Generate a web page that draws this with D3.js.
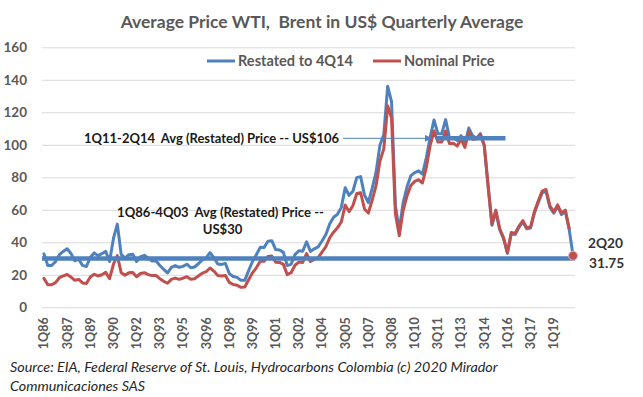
<!DOCTYPE html>
<html><head><meta charset="utf-8">
<script src="https://cdn.jsdelivr.net/npm/d3@7/dist/d3.min.js"></script>
<style>
body{margin:0;background:#fff}
svg{display:block}
text{font-family:Lato,"Open Sans",sans-serif;white-space:pre}
</style></head>
<body><svg id="chart" width="643" height="397"></svg>
<script>
const categories = [
"1Q86","2Q86","3Q86","4Q86","1Q87","2Q87","3Q87","4Q87","1Q88","2Q88","3Q88","4Q88",
"1Q89","2Q89","3Q89","4Q89","1Q90","2Q90","3Q90","4Q90","1Q91","2Q91","3Q91","4Q91",
"1Q92","2Q92","3Q92","4Q92","1Q93","2Q93","3Q93","4Q93","1Q94","2Q94","3Q94","4Q94",
"1Q95","2Q95","3Q95","4Q95","1Q96","2Q96","3Q96","4Q96","1Q97","2Q97","3Q97","4Q97",
"1Q98","2Q98","3Q98","4Q98","1Q99","2Q99","3Q99","4Q99","1Q00","2Q00","3Q00","4Q00",
"1Q01","2Q01","3Q01","4Q01","1Q02","2Q02","3Q02","4Q02","1Q03","2Q03","3Q03","4Q03",
"1Q04","2Q04","3Q04","4Q04","1Q05","2Q05","3Q05","4Q05","1Q06","2Q06","3Q06","4Q06",
"1Q07","2Q07","3Q07","4Q07","1Q08","2Q08","3Q08","4Q08","1Q09","2Q09","3Q09","4Q09",
"1Q10","2Q10","3Q10","4Q10","1Q11","2Q11","3Q11","4Q11","1Q12","2Q12","3Q12","4Q12",
"1Q13","2Q13","3Q13","4Q13","1Q14","2Q14","3Q14","4Q14","1Q15","2Q15","3Q15","4Q15",
"1Q16","2Q16","3Q16","4Q16","1Q17","2Q17","3Q17","4Q17","1Q18","2Q18","3Q18","4Q18",
"1Q19","2Q19","3Q19","4Q19","1Q20","2Q20"];

const restated = [
32.9,25.7,25.7,28.1, 32.4,34.4,36.0,33.1, 28.6,29.6,25.8,25.1,
30.7,33.5,31.8,33.0, 34.4,28.2,42.4,51.2, 32.6,30.3,32.4,32.7,
28.2,31.2,32.0,30.2, 28.5,28.6,25.7,23.4, 21.2,24.6,25.7,24.6,
25.2,26.5,24.4,24.8, 26.8,29.2,30.4,33.6, 30.6,26.7,26.4,26.9,
20.7,18.9,18.4,16.6, 16.6,22.6,28.2,32.3, 36.9,36.8,40.7,41.0,
35.5,35.3,33.8,25.7, 26.6,32.4,34.8,34.5, 40.3,34.4,36.0,37.2,
40.8,44.8,51.4,55.4, 57.2,61.5,73.6,68.9, 71.4,79.8,80.4,69.0,
64.4,73.3,83.3,99.9, 106.3,136.0,126.5,62.7, 47.5,64.3,74.0,81.0,
82.9,84.0,81.9,92.0, 104.6,115.3,106.8,106.8, 115.5,104.3,104.4,102.7,
105.6,100.4,110.3,105.5, 104.0,106.9,99.8,74.8, 50.5,58.9,47.8,42.2,
33.2,45.3,44.8,49.2, 52.5,48.3,48.8,58.1, 64.5,70.4,71.4,61.5,
57.9,62.0,57.1,58.9, 47.8,31.75];

const nominal = [
17.8,13.9,13.9,15.2, 18.2,19.3,20.2,18.6, 16.6,17.2,15.0,14.6,
18.6,20.3,19.3,20.0, 21.5,17.6,26.5,31.8, 21.3,19.8,21.2,21.4,
18.8,20.8,21.3,20.1, 19.5,19.6,17.6,16.0, 14.8,17.2,18.0,17.2,
17.9,18.8,17.3,17.6, 19.3,21.0,21.9,24.2, 22.3,19.5,19.3,19.6,
15.3,14.0,13.6,12.3, 12.5,17.0,21.2,24.3, 28.4,28.3,31.3,31.5,
27.7,27.6,26.4,20.1, 21.3,25.9,27.8,27.6, 33.0,28.2,29.5,30.5,
34.0,37.3,42.8,46.2, 48.9,52.6,62.9,58.9, 62.6,70.0,70.5,60.5,
58.0,66.0,75.0,90.0, 97.5,124.0,116.5,57.5, 44.0,59.5,68.5,75.0,
77.5,78.5,76.5,86.0, 99.6,108.5,101.7,101.7, 108.5,100.8,100.9,99.2,
103.5,98.4,108.1,103.4, 103.5,106.4,99.6,74.8, 51.3,59.8,48.5,42.8,
33.7,46.0,45.5,50.0, 53.3,49.0,49.5,59.0, 65.5,71.5,72.5,62.5,
58.8,63.0,58.0,59.8, 48.5,null];

const tickLabels = ["1Q86","3Q87","1Q89","3Q90","1Q92","3Q93","1Q95","3Q96","1Q98","3Q99",
"1Q01","3Q02","1Q04","3Q05","1Q07","3Q08","1Q10","3Q11","1Q13","3Q14","1Q16","3Q17","1Q19"];
const yTicks = [0,20,40,60,80,100,120,140,160];

const seriesNames = ["Restated to 4Q14","Nominal Price"];
const titleText = "Average Price WTI,  Brent in US$ Quarterly Average";
const avgEarly = 30;          // 1Q86-4Q03 average line
const avgRecent = 104;        // level of drawn 1Q11-2Q14 average bar
const avgRecentSpan = ["3Q11","4Q15"];
const arrowTarget = "1Q11";
const annoRecent = "1Q11-2Q14  Avg (Restated) Price -- US$106";
const annoEarly = ["1Q86-4Q03  Avg (Restated) Price --","US$30"];
const lastLabel = ["2Q20","31.75"];
const sourceLines = ["Source: EIA, Federal Reserve of St. Louis, Hydrocarbons Colombia (c) 2020 Mirador",
                     "Communicaciones SAS"];

const BLUE = "#4F81BD", RED = "#C0504D", GRID = "#D9D9D9", LABEL = "#595959";
const svg = d3.select("#chart");
const L = 42, R = 575, T = 47.3, B = 307.3;

const x = d3.scaleBand().domain(categories).range([L, R]).padding(0);
const bw = x.bandwidth();
const xc = c => x(c) + bw / 2;
const y = d3.scaleLinear().domain([0, 160]).range([B, T]);

function fit(sel, target) {
  const w = sel.node().getComputedTextLength();
  const fs = parseFloat(sel.attr("font-size"));
  sel.attr("font-size", (fs * target / w).toFixed(2));
  return fs * target / w;
}

// gridlines + y axis
const yAxis = svg.append("g").attr("transform", `translate(${L},0)`)
  .call(d3.axisLeft(y).tickValues(yTicks).tickSize(-(R - L)).tickPadding(15));
yAxis.select(".domain").remove();
yAxis.selectAll(".tick line").attr("stroke", GRID).attr("stroke-width", 1);
yAxis.selectAll(".tick text").attr("fill", LABEL).attr("font-weight", "bold")
  .attr("font-size", 14).style("font-family", "Lato");
const ySize = fit(yAxis.selectAll(".tick text").filter(d => d === 160), 23.5);
yAxis.selectAll(".tick text").attr("font-size", ySize);

// x axis
const xAxis = svg.append("g").attr("transform", `translate(0,${B})`)
  .call(d3.axisBottom(x).tickValues(tickLabels).tickSize(0));
xAxis.select(".domain").remove();
xAxis.selectAll(".tick text")
  .attr("transform", "rotate(-90)")
  .attr("x", -10).attr("y", 0).attr("dy", "0.35em")
  .attr("text-anchor", "end")
  .attr("fill", LABEL).attr("font-weight", "bold").attr("font-size", 14)
  .style("font-family", "Lato");
const xSize = fit(xAxis.selectAll(".tick text").filter(d => d === "1Q86"), 32);
xAxis.selectAll(".tick text").attr("font-size", xSize);

// series
const line = d3.line()
  .defined(d => d.v != null)
  .x(d => xc(d.c)).y(d => y(d.v))
  .curve(d3.curveLinear);
const blueData = categories.map((c, i) => ({c, v: restated[i]}));
const redData = categories.map((c, i) => ({c, v: nominal[i]}));
svg.append("path").datum(blueData).attr("d", line)
  .attr("fill", "none").attr("stroke", BLUE).attr("stroke-width", 3)
  .attr("stroke-linejoin", "round").attr("stroke-linecap", "round");
svg.append("path").datum(redData).attr("d", line)
  .attr("fill", "none").attr("stroke", RED).attr("stroke-width", 3)
  .attr("stroke-linejoin", "round").attr("stroke-linecap", "round");

// average lines
svg.append("line")
  .attr("x1", L).attr("x2", R).attr("y1", y(avgEarly)).attr("y2", y(avgEarly))
  .attr("stroke", BLUE).attr("stroke-width", 4.5);
svg.append("line")
  .attr("x1", x(avgRecentSpan[0])).attr("x2", x(avgRecentSpan[1]) + bw)
  .attr("y1", y(avgRecent)).attr("y2", y(avgRecent))
  .attr("stroke", BLUE).attr("stroke-width", 4.5);

// last point marker
const lastC = categories[categories.length - 1];
svg.append("circle").attr("cx", xc(lastC)).attr("cy", y(restated[restated.length - 1]))
  .attr("r", 4.5).attr("fill", RED).attr("stroke", "#E6B9B8").attr("stroke-width", 1);

// annotations
const aR = svg.append("text").attr("x", 84).attr("y", y(avgRecent)).attr("dy", "0.35em")
  .attr("font-weight", "bold").attr("font-size", 13).attr("fill", "#1a1a1a").text(annoRecent);
fit(aR, 255);
const aREnd = 84 + aR.node().getComputedTextLength();
svg.append("defs").append("marker").attr("id", "arr").attr("viewBox", "0 0 10 10")
  .attr("refX", 9).attr("refY", 5).attr("markerWidth", 7).attr("markerHeight", 7)
  .attr("markerUnits", "userSpaceOnUse").attr("orient", "auto")
  .append("path").attr("d", "M0,0L10,5L0,10Z").attr("fill", BLUE);
svg.append("line").attr("x1", aREnd + 4).attr("x2", xc(arrowTarget) + 1)
  .attr("y1", y(avgRecent)).attr("y2", y(avgRecent))
  .attr("stroke", BLUE).attr("stroke-width", 1).attr("marker-end", "url(#arr)");

const aE1 = svg.append("text").attr("x", 220.5).attr("y", 212).attr("dy", "0.35em")
  .attr("text-anchor", "middle").attr("font-weight", "bold").attr("font-size", 13)
  .attr("fill", "#1a1a1a").text(annoEarly[0]);
const eSize = fit(aE1, 207);
svg.append("text").attr("x", 222.5).attr("y", 229.5).attr("dy", "0.35em")
  .attr("text-anchor", "middle").attr("font-weight", "bold").attr("font-size", eSize)
  .attr("fill", "#1a1a1a").text(annoEarly[1]);

// last value label
const l1 = svg.append("text").attr("x", 588).attr("y", 243).attr("dy", "0.35em")
  .attr("font-weight", "bold").attr("font-size", 14).attr("fill", "#333").text(lastLabel[0]);
const lSize = fit(l1, 35);
svg.append("text").attr("x", 589).attr("y", 263).attr("dy", "0.35em")
  .attr("font-weight", "bold").attr("font-size", lSize).attr("fill", "#333").text(lastLabel[1]);

// title
const title = svg.append("text").attr("x", 322).attr("y", 28.3).attr("text-anchor", "middle")
  .attr("font-weight", "bold").attr("font-size", 18).attr("fill", LABEL).text(titleText);
fit(title, 403);

// legend
const legY = 61;
const lg = svg.append("g");
lg.append("line").attr("x1", 207).attr("x2", 235).attr("y1", legY).attr("y2", legY)
  .attr("stroke", BLUE).attr("stroke-width", 3);
const lt1 = lg.append("text").attr("x", 238).attr("y", legY).attr("dy", "0.35em")
  .attr("font-weight", "bold").attr("font-size", 14).attr("fill", LABEL).text(seriesNames[0]);
const lgSize = fit(lt1, 115);
lg.append("line").attr("x1", 373).attr("x2", 401).attr("y1", legY).attr("y2", legY)
  .attr("stroke", RED).attr("stroke-width", 3);
lg.append("text").attr("x", 404).attr("y", legY).attr("dy", "0.35em")
  .attr("font-weight", "bold").attr("font-size", lgSize).attr("fill", LABEL).text(seriesNames[1]);

// source
const s1 = svg.append("text").attr("x", 10).attr("y", 372).attr("font-style", "italic")
  .attr("font-size", 13).attr("fill", "#262626").text(sourceLines[0]);
const sSize = fit(s1, 488);
svg.append("text").attr("x", 10).attr("y", 391).attr("font-style", "italic")
  .attr("font-size", sSize).attr("fill", "#262626").text(sourceLines[1]);
</script>
</body></html>
